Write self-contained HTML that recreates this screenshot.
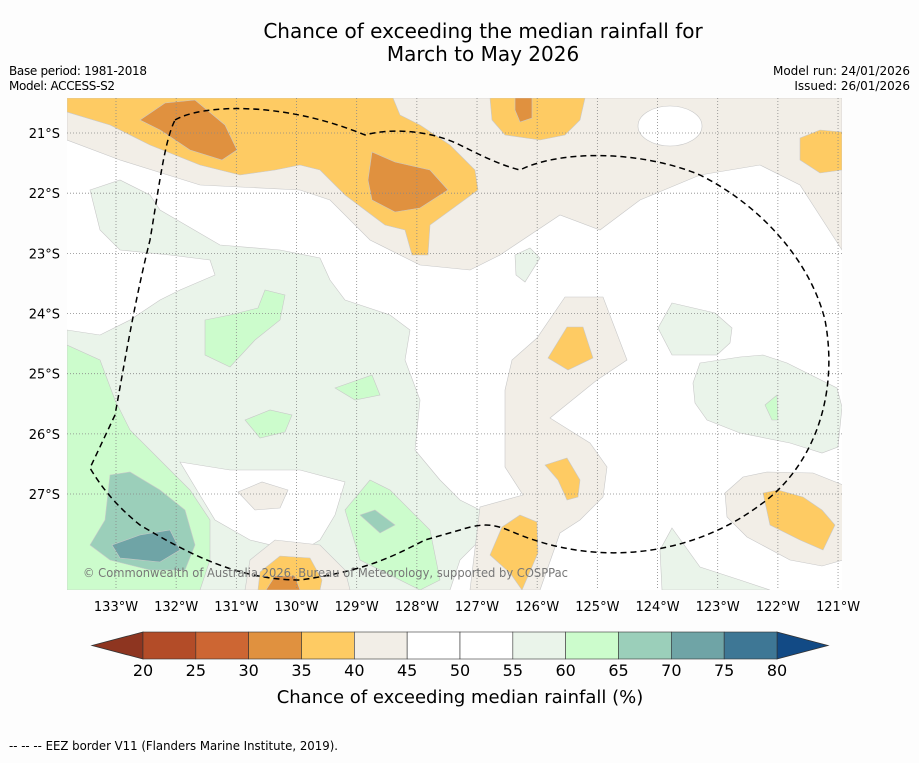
<!DOCTYPE html>
<html><head><meta charset="utf-8"><style>
body{margin:0;background:#fdfdfd;font-family:"Liberation Sans",sans-serif;}
svg text{font-family:"DejaVu Sans","Liberation Sans",sans-serif;}
</style></head><body>
<svg width="919" height="758" viewBox="0 0 919 758" xmlns="http://www.w3.org/2000/svg">
<rect width="919" height="758" fill="#fdfdfd"/>
<text x="483" y="38" text-anchor="middle" font-size="20">Chance of exceeding the median rainfall for</text>
<text x="483" y="61" text-anchor="middle" font-size="20">March to May 2026</text>
<text x="9" y="75" font-size="12" textLength="138">Base period: 1981-2018</text>
<text x="9" y="90" font-size="12" textLength="106">Model: ACCESS-S2</text>
<text x="910" y="75" font-size="12" text-anchor="end">Model run: 24/01/2026</text>
<text x="910" y="90" font-size="12" text-anchor="end">Issued: 26/01/2026</text>

<defs><clipPath id="mc"><rect x="67" y="98" width="775" height="492"/></clipPath></defs>
<g clip-path="url(#mc)" stroke="#c8c8c8" stroke-width="0.6">
<rect x="67" y="98" width="775" height="492" fill="#ffffff" stroke="none"/>
<polygon fill="#f2eee7" points="67,98 842,98 842,250 800,185 760,165 700,175 640,200 600,230 560,215 500,255 470,270 420,265 370,240 330,200 300,190 200,185 120,160 67,140"/>
<ellipse cx="670" cy="126" rx="32" ry="20" fill="#fff"/>
<polygon fill="#eaf4ea" points="90,190 120,180 150,195 160,210 220,245 280,250 320,258 330,280 345,300 390,315 410,330 405,360 420,400 415,450 440,480 460,500 480,510 480,540 460,560 450,590 67,590 67,330 100,335 130,320 160,300 180,290 215,275 210,260 170,255 120,250 100,230"/>
<polygon fill="#fff" points="180,462 230,470 300,470 345,482 335,515 320,540 300,552 250,540 215,520 198,492"/>
<polygon fill="#f2eee7" points="238,492 262,482 288,490 280,508 255,510"/>
<polygon fill="#f2eee7" points="250,560 275,540 320,545 345,570 350,590 245,590"/>
<polygon fill="#fecb63" points="260,572 280,556 310,558 322,580 320,590 258,590"/>
<polygon fill="#e0913f" points="266,590 275,576 295,576 300,590"/>
<polygon fill="#fecb63" points="67,98 393,98 400,115 420,125 450,145 475,170 478,190 430,225 428,255 412,255 405,230 385,225 365,210 345,195 320,170 300,165 275,170 240,175 200,165 150,145 110,125 67,112"/>
<polygon fill="#e0913f" points="140,120 165,103 195,100 225,125 237,150 222,160 190,150 160,130"/>
<polygon fill="#e0913f" points="372,152 395,162 430,170 448,190 420,208 395,212 372,200 368,180"/>
<polygon fill="#fecb63" points="490,98 585,98 580,120 565,135 540,140 505,135 492,120"/>
<polygon fill="#e0913f" points="515,98 532,98 532,118 520,122 515,110"/>
<polygon fill="#fecb63" points="800,138 820,130 842,132 842,170 820,173 800,160"/>
<polygon fill="#ccfccc" points="67,345 100,360 115,400 130,430 160,460 190,490 210,520 210,560 200,590 67,590"/>
<polygon fill="#9bcfba" points="110,475 130,472 160,490 185,510 195,545 185,570 150,570 110,560 90,545 105,520"/>
<polygon fill="#6fa4a6" points="112,545 140,535 170,530 180,550 160,562 120,558"/>
<polygon fill="#ccfccc" points="205,320 230,315 258,308 265,290 285,295 280,320 255,340 230,367 205,355"/>
<polygon fill="#ccfccc" points="335,388 372,375 380,395 355,400"/>
<polygon fill="#ccfccc" points="245,420 270,410 292,415 285,432 260,438"/>
<polygon fill="#ccfccc" points="345,510 370,480 390,490 430,530 440,580 420,590 360,560"/>
<polygon fill="#9bcfba" points="360,515 375,510 395,525 380,533"/>
<polygon fill="#eaf4ea" points="515,255 530,248 540,258 525,282 516,275"/>
<polygon fill="#f2eee7" points="565,297 603,297 627,360 597,380 550,418 590,443 607,467 603,497 580,520 560,533 540,590 470,590 480,507 523,495 505,467 505,390 512,360 537,338"/>
<polygon fill="#fecb63" points="567,327 583,327 593,358 568,370 548,358"/>
<polygon fill="#fecb63" points="545,465 567,458 580,480 578,497 567,500 558,480"/>
<polygon fill="#fecb63" points="520,515 537,522 538,553 522,590 510,573 490,555 502,527"/>
<polygon fill="#eaf4ea" points="672,303 715,313 732,328 730,343 717,355 672,355 658,328"/>
<polygon fill="#eaf4ea" points="700,363 740,357 763,355 787,363 837,388 842,407 838,447 822,453 790,443 740,433 707,420 695,403 693,383"/>
<polygon fill="#ccfccc" points="765,405 777,395 778,420 772,420"/>
<polygon fill="#f2eee7" points="725,493 743,477 767,472 813,473 843,485 843,560 822,566 790,560 747,537 727,517"/>
<polygon fill="#fecb63" points="763,493 778,490 803,497 822,510 835,525 823,550 800,540 770,525"/>
<polygon fill="#eaf4ea" points="672,528 700,567 740,580 770,590 662,590 660,550"/>
</g>
<g id="grid"></g>
<path fill="none" stroke="#000" stroke-width="1.5" stroke-dasharray="6,4" d="M175,120 C200,105 280,100 365,135 C390,128 430,130 460,145 C480,155 500,165 520,170 C560,150 640,150 700,175 C760,205 810,260 825,320 C840,400 810,470 760,505 C700,550 610,570 520,535 C500,527 490,520 460,530 L425,540 C395,555 370,570 300,580 C240,580 190,555 140,525 C115,505 100,485 90,468 L115,415 C125,360 135,300 150,240 C160,180 165,140 175,120"/>
<text x="83" y="577" font-size="12" fill="#777" textLength="485" lengthAdjust="spacingAndGlyphs">© Commonwealth of Australia 2026, Bureau of Meteorology, supported by COSPPac</text>
<g id="axes"></g>
<g id="cbar"></g>
<text x="460" y="703" text-anchor="middle" font-size="18">Chance of exceeding median rainfall (%)</text>
<text x="9" y="750" font-size="12" textLength="329" lengthAdjust="spacingAndGlyphs">--  --  -- EEZ border V11 (Flanders Marine Institute, 2019).</text>
</svg>
<script>
const lonLabels=["133°W","132°W","131°W","130°W","129°W","128°W","127°W","126°W","125°W","124°W","123°W","122°W","121°W"];
const latLabels=["21°S","22°S","23°S","24°S","25°S","26°S","27°S"];
const cbarTicks=[20,25,30,35,40,45,50,55,60,65,70,75,80];
const cbarColors=["#b34c28","#cd6633","#e0913f","#fecb63","#f2eee7","#ffffff","#ffffff","#eaf4ea","#ccfccc","#9bcfba","#6fa4a6","#3e7795"];
const NS="http://www.w3.org/2000/svg";
const lonX=i=>116+i*60.17, latY=i=>133+i*60.17;
function mk(t,a,p){const e=document.createElementNS(NS,t);for(const k in a)e.setAttribute(k,a[k]);p.appendChild(e);return e;}
const g=document.getElementById('grid'),ax=document.getElementById('axes'),cb=document.getElementById('cbar');
lonLabels.forEach((l,i)=>{const x=lonX(i);
 const ln=mk('line',{x1:x,x2:x,y1:98,y2:590,stroke:'#888','stroke-width':0.8,'stroke-dasharray':'1,2'},g);
 
 
 const t=mk('text',{x:x,y:611,'text-anchor':'middle','font-size':13},ax);t.textContent=l;
 
 });
latLabels.forEach((l,i)=>{const y=latY(i);
 const ln=mk('line',{x1:67,x2:842,y1:y,y2:y,stroke:'#888','stroke-width':0.8,'stroke-dasharray':'1,2'},g);
 
 
 const t=mk('text',{x:60,y:y+5,'text-anchor':'end','font-size':13},ax);t.textContent=l;
 
 });
const cx0=143,cw=(777-143)/12,cy=632,ch=27;
let tl=mk('polygon',{points:`92,${cy+ch/2} ${cx0},${cy} ${cx0},${cy+ch}`,fill:'#8e3520',stroke:'#333','stroke-width':0.8},cb);


let tr=mk('polygon',{points:`828,${cy+ch/2} 777,${cy} 777,${cy+ch}`,fill:'#124a85',stroke:'#333','stroke-width':0.8},cb);


cbarColors.forEach((c,i)=>{const r=mk('rect',{x:cx0+i*cw,y:cy,width:cw,height:ch,fill:c,stroke:'#333','stroke-width':0.6},cb);
 
 });
cbarTicks.forEach((v,i)=>{const t=mk('text',{x:cx0+i*cw,y:676,'text-anchor':'middle','font-size':16},cb);t.textContent=v;
 
 });
</script>
</body></html>
